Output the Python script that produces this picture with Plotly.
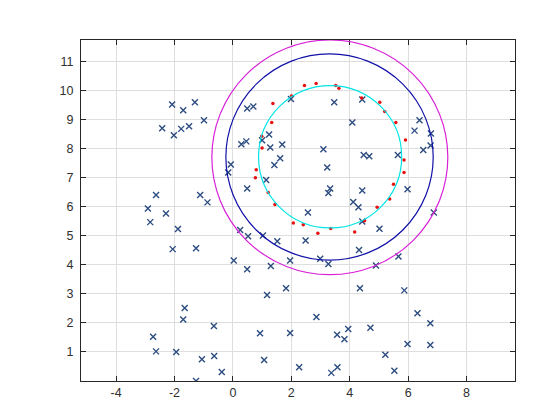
import plotly.graph_objects as go

# Blue 'x' samples
bx = [-2.08, -1.70, -1.30, -2.42, -2.02, -1.77, -1.50, -0.99, 0.49, 0.70,
      0.29, 0.46, -0.07, -0.16, 0.49, 1.00, 1.24, 1.28, 1.69, 1.62,
      1.42, 1.14, 1.99, -2.63, -2.91, -2.83, -2.29, -1.12, -0.87, 2.57,
      3.47, 4.43, 4.09, 3.10, 3.23, 4.48, 4.67, 5.65, 6.39, 6.22,
      6.78, 6.77, 6.52, 3.33, 3.27, 4.43, 5.98, 4.12, 4.30, 6.88,
      4.43, 5.02,
      -1.88, -2.06, -1.26, 0.25, 0.52, 1.03, 1.52, 2.49, 0.03, 0.49,
      1.30, 1.96, 1.82, 1.17, -1.65, -1.70, -0.65, -2.73, -2.63, -1.94,
      -1.06, -0.64, -0.38, -1.26, 0.93, 1.07, 1.96, 2.27,
      2.99, 3.27, 4.32, 5.67, 4.90, 4.35, 5.87, 6.32, 6.76, 2.86,
      3.95, 3.57, 3.82, 4.71, 5.98, 6.76, 5.22, 5.53, 3.58, 3.37]
by = [9.52, 9.32, 9.60, 8.70, 8.46, 8.68, 8.77, 8.98, 9.38, 9.45,
      8.15, 8.25, 7.45, 7.18, 6.63, 8.29, 8.49, 8.04, 8.14, 7.67,
      7.44, 6.92, 9.71, 6.40, 5.94, 5.47, 5.77, 6.40, 6.15, 5.80,
      9.60, 9.69, 8.90, 7.98, 7.35, 7.78, 7.74, 7.78, 8.98, 8.62,
      8.52, 8.11, 7.95, 6.63, 6.47, 6.56, 6.60, 6.16, 5.98, 5.80,
      5.49, 5.24,
      5.23, 4.54, 4.57, 5.20, 4.98, 5.01, 4.81, 4.84, 4.15, 3.85,
      3.96, 4.15, 3.19, 2.96, 2.51, 2.12, 1.89, 1.52, 1.02, 1.00,
      0.75, 0.86, 0.31, 0.00, 1.64, 0.72, 1.65, 0.47,
      4.21, 4.03, 4.51, 4.29, 3.98, 3.19, 3.12, 2.33, 1.99, 2.20,
      1.79, 1.59, 1.44, 1.83, 1.27, 1.24, 0.90, 0.35, 0.47, 0.28]

# Red dots
rx = [2.45, 2.01, 1.37, 1.33, 0.99, 1.00, 0.80, 0.77, 1.21, 1.44,
      2.07, 2.41, 2.85, 3.52, 3.63, 4.41, 5.03, 5.20, 5.58, 5.91,
      5.86, 5.86, 5.50, 5.37, 4.94, 4.51, 2.91, 3.35, 4.17]
ry = [10.17, 9.81, 9.55, 8.90, 8.43, 8.02, 7.27, 7.00, 6.49, 6.08,
      5.44, 5.38, 10.24, 10.17, 10.08, 9.74, 9.60, 9.28, 8.90, 8.30,
      7.61, 7.18, 6.77, 6.27, 5.98, 5.52, 5.09, 5.25, 5.13]

# Circles: center x, center y, radius, colour
circ_cx = [3.33, 3.31, 3.32]
circ_cy = [7.72, 7.71, 7.70]
circ_r = [2.45, 3.55, 4.04]
circ_col = ["#00e5e5", "#1010a8", "#d820d8"]

xticks = [-4, -2, 0, 2, 4, 6, 8]
yticks = list(range(1, 12))

fig = go.Figure()
fig.add_trace(go.Scatter(
    x=bx, y=by, mode="markers",
    marker=dict(symbol="x-thin", size=6, color="#2c4c80",
                line=dict(width=1.4, color="#2c4c80")),
    showlegend=False, hoverinfo="skip"))
fig.add_trace(go.Scatter(
    x=rx, y=ry, mode="markers",
    marker=dict(symbol="circle", size=3.5, color="#e81010"),
    showlegend=False, hoverinfo="skip"))

for cx, cy, r, c in zip(circ_cx, circ_cy, circ_r, circ_col):
    fig.add_shape(type="circle", xref="x", yref="y",
                  x0=cx - r, x1=cx + r, y0=cy - r, y1=cy + r,
                  line=dict(color=c, width=1.2), layer="above")

axis_common = dict(
    showgrid=True, gridcolor="#dedede", gridwidth=1,
    zeroline=False, showline=True, linecolor="#262626", linewidth=1,
    mirror="ticks", ticks="inside", ticklen=5, tickcolor="#262626",
    tickfont=dict(family="Liberation Sans, Arial", size=12.5, color="#303030"),
)

fig.update_xaxes(range=[-5.2, 9.66], tickvals=xticks,
                 ticktext=[str(v) for v in xticks], **axis_common)
fig.update_yaxes(range=[0, 11.74], tickvals=yticks,
                 ticktext=[str(v) for v in yticks], ticklabelstandoff=4,
                 **axis_common)

fig.update_layout(
    width=560, height=420,
    margin=dict(l=73, r=53, t=32, b=47),
    paper_bgcolor="white", plot_bgcolor="white",
)

fig.write_html("out.html")
